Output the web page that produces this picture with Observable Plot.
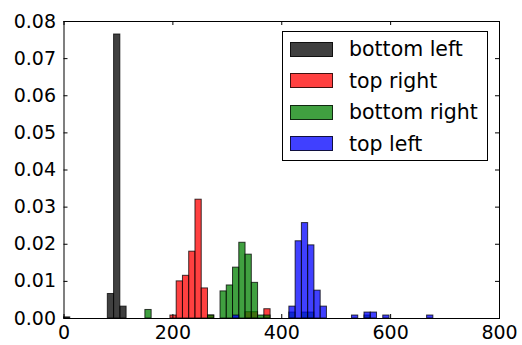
<!DOCTYPE html>
<html>
<head>
<meta charset="utf-8">
<script src="https://cdn.jsdelivr.net/npm/d3@7"></script>
<script src="https://cdn.jsdelivr.net/npm/@observablehq/plot@0.6"></script>
<style>
  html, body { margin: 0; padding: 0; background: #fff; }
  #wrap { position: relative; width: 522px; height: 345px; font-family: "DejaVu Sans", sans-serif; }
  #legend { position: absolute; left: 282px; top: 31px; width: 206px; height: 130px; border: 1px solid #000; background: #fff; box-sizing: border-box; }
  .item { position: absolute; left: 7px; height: 20px; display: flex; align-items: center; }
  .sw { width: 43px; height: 15px; box-sizing: border-box; border: 1px solid rgba(0,0,0,0.75); flex: none; }
  .lab { margin-left: 16px; font-size: 20.5px; color: #000; white-space: nowrap; }
</style>
</head>
<body>
<div id="wrap"></div>
<script>
// bin width shared by all histograms
const binWidth = 11.5;

const seriesNames = ["bottom left", "top right", "bottom right", "top left"];
const seriesColors = ["#000000", "#ff0000", "#008000", "#0000ff"];

const blackBins = [0, 7, 8, 9];
const blackDens = [0.0003, 0.0066, 0.0765, 0.0032];

const redBins = [17, 18, 19, 20, 21, 22, 23, 29, 30, 32];
const redDens = [0.0008, 0.0100, 0.0115, 0.0180, 0.0320, 0.0081, 0.0008, 0.0017, 0.0017, 0.0025];

const greenBins = [13, 23, 25, 26, 27, 28, 29, 30, 31, 32, 36, 38, 39, 48];
const greenDens = [0.0023, 0.0008, 0.0073, 0.0089, 0.0137, 0.0204, 0.0172, 0.0096, 0.0008, 0.0008, 0.0016, 0.0016, 0.0016, 0.0008];

const blueBins = [27, 36, 37, 38, 39, 40, 41, 46, 48, 49, 51, 58];
const blueDens = [0.0008, 0.0032, 0.0208, 0.0257, 0.0197, 0.0075, 0.0032, 0.0008, 0.0016, 0.0016, 0.0008, 0.0008];

const xTicks = [0, 200, 400, 600, 800];
const yTicks = [0, 0.01, 0.02, 0.03, 0.04, 0.05, 0.06, 0.07, 0.08];

const allBins = [blackBins, redBins, greenBins, blueBins];
const allDens = [blackDens, redDens, greenDens, blueDens];

const W = 522, H = 345;
const mL = 63.5, mR = 23, mT = 21, mB = 27;
const innerW = W - mL - mR, innerH = H - mT - mB;

const histMarks = allBins.map((bins, s) => {
  const rows = bins.map((b, i) => ({x1: b * binWidth, x2: (b + 1) * binWidth, y: allDens[s][i]}));
  return Plot.rectY(rows, {
    x1: "x1", x2: "x2", y: "y",
    fill: seriesColors[s], fillOpacity: 0.75,
    stroke: "#000", strokeOpacity: 0.75, strokeWidth: 1
  });
});

const chart = Plot.plot({
  width: W, height: H,
  marginLeft: mL, marginRight: mR, marginTop: mT, marginBottom: mB,
  style: {fontFamily: "DejaVu Sans, sans-serif", fontSize: "19px", background: "#fff", color: "#000"},
  x: {domain: [0, 800]},
  y: {domain: [0, 0.08]},
  marks: [
    ...histMarks,
    Plot.frame({stroke: "#000", strokeWidth: 1}),
    Plot.tickX(xTicks, {x: d => d, insetTop: innerH - 4, stroke: "#000"}),
    Plot.tickX(xTicks, {x: d => d, insetBottom: innerH - 4, stroke: "#000"}),
    Plot.tickY(yTicks, {y: d => d, insetRight: innerW - 4, stroke: "#000"}),
    Plot.tickY(yTicks, {y: d => d, insetLeft: innerW - 4, stroke: "#000"}),
    Plot.axisX(xTicks, {tickSize: 0, tickPadding: 7, label: null, fontSize: 19}),
    Plot.axisY(yTicks, {tickSize: 0, tickPadding: 8, label: null, fontSize: 19, tickFormat: d3.format(".2f")})
  ]
});

const wrap = document.getElementById("wrap");
wrap.appendChild(chart);

const legend = document.createElement("div");
legend.id = "legend";
const centers = [17, 48.5, 80, 111.5];
seriesNames.forEach((name, i) => {
  const item = document.createElement("div");
  item.className = "item";
  item.style.top = (centers[i] - 10) + "px";
  const sw = document.createElement("div");
  sw.className = "sw";
  const c = d3.color(seriesColors[i]); c.opacity = 0.75;
  sw.style.background = c.formatRgb();
  const lab = document.createElement("span");
  lab.className = "lab";
  lab.textContent = name;
  item.appendChild(sw);
  item.appendChild(lab);
  legend.appendChild(item);
});
wrap.appendChild(legend);
</script>
</body>
</html>
